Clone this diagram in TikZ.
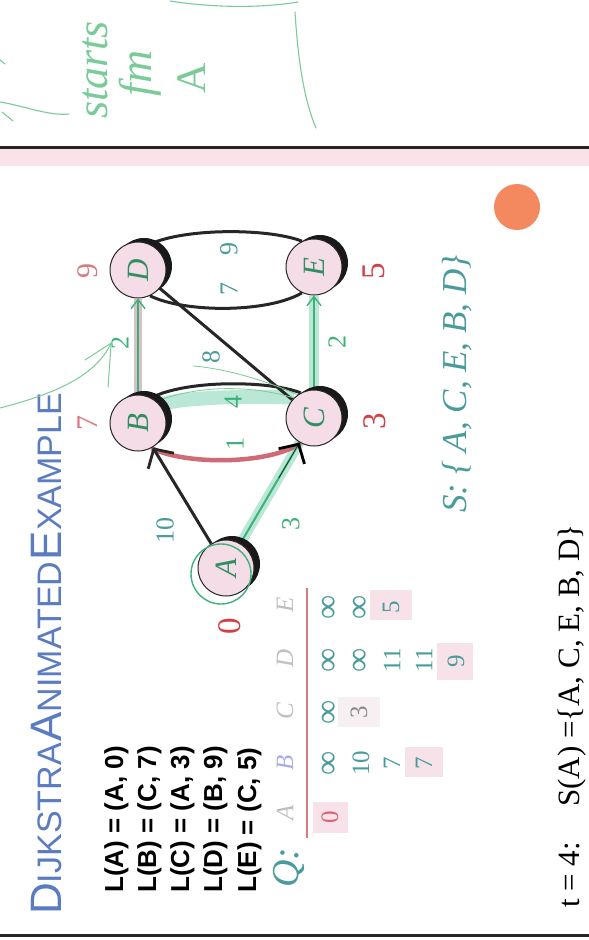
\documentclass[tikz,border=0pt]{standalone}
\usepackage{fontspec}
\setmainfont{Liberation Serif}
\setsansfont{Liberation Sans}
\usetikzlibrary{arrows.meta,shadows,backgrounds,calc}
\definecolor{nodepink}{HTML}{F5DDE7}
\definecolor{bandpink}{HTML}{F9E3E8}
\definecolor{boxpink}{HTML}{F8E2EA}
\definecolor{teal}{HTML}{4A9B9B}
\definecolor{redlab}{HTML}{D23F45}
\definecolor{redlight}{HTML}{D77A82}
\definecolor{hand}{HTML}{7ACB98}
\definecolor{gline}{HTML}{3CB27A}
\definecolor{hlgreen}{HTML}{8FD9BC}
\definecolor{hlred}{HTML}{C8505F}
\definecolor{hlmauve}{HTML}{C9A4AE}
\definecolor{titleblue}{HTML}{5B7CC0}
\definecolor{orangedot}{HTML}{F4895F}
\definecolor{lavender}{HTML}{A8AEE6}
\tikzset{
  vtx/.style={circle, minimum size=56pt, inner sep=0pt, fill=nodepink, draw=black!85, line width=1pt,
    drop shadow={shadow xshift=6pt, shadow yshift=4pt, fill=black!90, opacity=1},
    text=gline!80!black, font=\itshape\fontsize{31}{31}\selectfont},
  rot/.style={rotate=90, inner sep=0pt},
  wlab/.style={rot, text=teal, font=\fontsize{26}{26}\selectfont},
  glab/.style={rot, text=gline, font=\fontsize{26}{26}\selectfont},
  dlab/.style={rot, text=redlab, font=\fontsize{33}{33}\selectfont},
  dlabl/.style={rot, text=redlight, font=\fontsize{30}{30}\selectfont},
  tval/.style={rot, text=teal, font=\fontsize{25}{25}\selectfont},
  tinf/.style={rot, text=teal, font=\fontsize{34}{34}\selectfont},
  thead/.style={rot, text=black!25, font=\itshape\fontsize{25}{25}\selectfont},
  edgeb/.style={draw=black!85, line width=3pt},
  handln/.style={draw=hand, line width=1.1pt, line cap=round},
  barb/.style={-{Straight Barb[length=14pt,width=30pt,line width=2.8pt]}},
  gbarb/.style={-{Straight Barb[length=9pt,width=14pt,line width=1.4pt]}},
  ltab/.style={rot, anchor=base west, font=\sffamily\bfseries\fontsize{26}{26}\selectfont},
}
\begin{document}
\begin{tikzpicture}[x=1pt,y=-1pt]
\useasboundingbox (0,0) rectangle (589,940);
\begin{scope}[on background layer]
  \fill[white] (0,0) rectangle (589,940);
\end{scope}

% handwritten annotation at top
\draw[handln] (170,1) .. controls (215,8) and (262,8) .. (298,2);
\draw[handln] (295,12) .. controls (298,60) and (304,100) .. (316,128);
\draw[handln] (0,102) .. controls (25,106) and (48,116) .. (69,114);
\draw[handln] (2,112) -- (13,121);
\draw[handln] (0,60) -- (5,64);
\node[rot, text=hand, font=\itshape\fontsize{44}{44}\selectfont] (hw1) at (95,70) {starts};
\node[rot, text=hand, font=\itshape\fontsize{46}{46}\selectfont] (hw2) at (140,73) {fm};
\node[rot, text=hand, font=\fontsize{42}{42}\selectfont] (hw3) at (192,78) {A};

% slide frame
\fill[bandpink] (0,149) rectangle (589,166);
\draw[black!85, line width=3pt] (0,147) -- (589,147);
\draw[black!85, line width=3pt] (0,935) -- (589,935);
\fill[orangedot] (517,207) circle (23);

% title
\node[rot, anchor=base west, text=titleblue, font=\sffamily] (title) at (61,915)
  {{\fontsize{44}{44}\selectfont D}{\fontsize{34}{34}\selectfont IJKSTRA}\,{\fontsize{44}{44}\selectfont A}{\fontsize{34}{34}\selectfont NIMATED}\,{\fontsize{44}{44}\selectfont E}{\fontsize{34}{34}\selectfont XAMPLE}};

% L table
\node[ltab] (l1) at (123,893) {L(A) = (A, 0)};
\node[ltab] (l2) at (156,893) {L(B) = (C, 7)};
\node[ltab] (l3) at (189,893) {L(C) = (A, 3)};
\node[ltab] (l4) at (222,893) {L(D) = (B, 9)};
\node[ltab] (l5) at (256,893) {L(E) = (C, 5)};

% vertices
\node[vtx] (D) at (138,270) {\rotatebox{90}{D}};
\node[vtx] (B) at (138,423) {\rotatebox{90}{B}};
\node[vtx] (E) at (314,267) {\rotatebox{90}{E}};
\node[vtx] (C) at (314,418) {\rotatebox{90}{C}};
\node[vtx] (A) at (226,568) {\rotatebox{90}{A}};
\draw[gline, line width=1.4pt] (221,574) circle (30);

% distance labels
\node[dlabl] (dD) at (88,271) {9};
\node[dlabl] (dB) at (88,423) {7};
\node[dlab] (dA) at (230,626) {0};
\node[dlab] (dC) at (375,421) {3};
\node[dlab] (dE) at (374,271) {5};

% edge weights
\node[wlab] (w9) at (229,249) {9};
\node[wlab] (w7) at (229,289) {7};
\node[wlab] (w8) at (211,357) {8};
\node[glab] (w2a) at (120,343) {2};
\node[glab] (w4) at (233,402) {4};
\node[glab] (w1) at (235,444) {1};
\node[wlab] (w10) at (165,530) {10};
\node[glab] (w3) at (291,524) {3};
\node[glab] (w2b) at (337,342) {2};

% edges (behind vertices)
\begin{scope}[on background layer]
  \fill[boxpink] (313,802) rectangle (348,833);
  \fill[boxpink!80!gray!30] (338,697) rectangle (380,727);
  \fill[boxpink] (405,747) rectangle (443,777);
  \fill[boxpink] (437,643) rectangle (473,680);
  \fill[boxpink] (370,590) rectangle (412,620);
  \draw[hlgreen, line width=10pt, opacity=.6] (A) -- (C);
  \draw[hlgreen, line width=10pt, opacity=.6] (C) -- (E);
  \draw[hlgreen, line width=14pt, opacity=.6] (B.40) .. controls (185,396) and (270,396) .. (C.135);
  \draw[hlmauve, line width=8pt, opacity=.7] (B) -- (D);
  \draw[edgeb] (D.65) .. controls (185,228) and (268,228) .. (E.115);
  \draw[edgeb] (D.-65) .. controls (185,313) and (268,313) .. (E.-115);
  \draw[edgeb] (B.62) .. controls (185,380) and (268,380) .. (C.118);
  \draw[hlred, line width=4.5pt, opacity=.85] (B.-62) .. controls (185,465) and (268,465) .. (C.-118);
  \draw[edgeb] (C) -- (D);
  \draw[edgeb, barb] (A) -- (B);
  \draw[gline, line width=2pt] (A) -- (C);
  \draw[black, barb] ($(A)!0.6!(C)$) -- (C);
  \draw[gline, line width=1.6pt, gbarb] (C) -- (E);
  \draw[gline, line width=1.2pt, gbarb] (B) -- (D);
  \draw[handln, line width=0.8pt] (C.125) .. controls (260,378) and (220,368) .. (193,366);
  \draw[handln, line width=0.8pt] (C.135) .. controls (250,385) and (200,385) .. (B.50);
\end{scope}

% green annotation arrow
\coordinate (gs) at (0,408);
\draw[handln, line width=1pt] (gs) .. controls (50,395) and (95,378) .. (w2a.north);
\draw[handln, line width=1pt] (85,360) -- (w2a.north) -- (108,387);

% Q table
\node[rot, anchor=base west, text=teal, font=\itshape\fontsize{38}{38}\selectfont] (Q) at (298,888) {Q:};
\node[thead] (hA) at (285,813) {A};
\node[thead, text=lavender] (hB) at (285,763) {B};
\node[thead] (hC) at (285,711) {C};
\node[thead] (hD) at (285,658) {D};
\node[thead] (hE) at (285,605) {E};
\draw[redlight, line width=2.5pt] (307,588) -- (307,838);

\node[tval, text=redlab!80] (vA1) at (330,817) {0};
\node[tinf] (vB1) at (330,763) {∞};
\node[tval] (vB2) at (361,763) {10};
\node[tval] (vB3) at (392,763) {7};
\node[tval] (vB4) at (424,763) {7};
\node[tinf] (vC1) at (330,712) {∞};
\node[tval, text=black!45] (vC2) at (359,712) {3};
\node[tinf] (vD1) at (330,660) {∞};
\node[tinf] (vD2) at (361,660) {∞};
\node[tval] (vD3) at (392,660) {11};
\node[tval] (vD4) at (424,660) {11};
\node[tval] (vD5) at (456,661) {9};
\node[tinf] (vE1) at (330,607) {∞};
\node[tinf] (vE2) at (361,607) {∞};
\node[tval] (vE3) at (391,607) {5};

% S set
\node[rot, anchor=base west, text=teal, font=\itshape\fontsize{35}{35}\selectfont] (S) at (466,513) {S: \{ A, C, E, B, D\}};

% bottom line
\node[rot, anchor=base west, font=\fontsize{31}{31}\selectfont] (t4) at (579,908) {t = 4:};
\node[rot, anchor=base west, font=\fontsize{31}{31}\selectfont] (SA) at (579,807) {S(A) =\{A, C, E, B, D\}};
\end{tikzpicture}
\end{document}
